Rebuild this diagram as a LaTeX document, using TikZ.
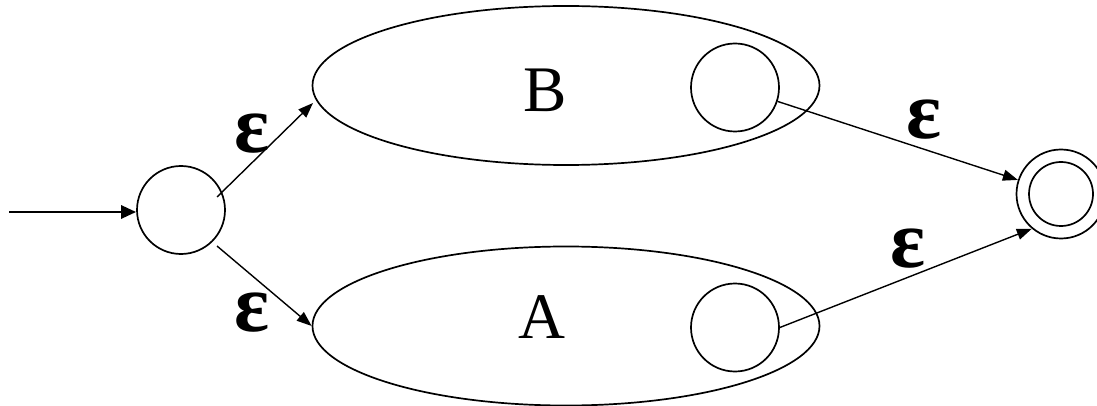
\documentclass[tikz,border=0pt]{standalone}
\usepackage{fontspec}
\setmainfont{Liberation Serif}
\usetikzlibrary{shapes.geometric,arrows.meta}
\begin{document}
\begin{tikzpicture}[x=1pt,y=-1pt,
  state/.style={draw,circle,line width=1.7pt,minimum size=88pt,inner sep=0pt},
  group/.style={draw,ellipse,line width=1.7pt,minimum width=507pt,minimum height=159pt,inner sep=0pt},
  edge/.style={line width=1.4pt,-{Triangle[length=15pt,width=11pt]}},
  startedge/.style={line width=2.8pt,-{Triangle[length=15pt,width=13pt]}},
  eps/.style={anchor=base,inner sep=0pt,font=\fontsize{82}{90}\selectfont\bfseries},
  big/.style={anchor=base,inner sep=0pt,font=\fontsize{65}{72}\selectfont}]
\useasboundingbox (0,0) rectangle (1097,406);
\node[group] (B) at (566,85.5) {};
\node[group] (A) at (566,326) {};
\node[big] (Bl) at (545,112) {B};
\node[big] (Al) at (542,338) {A};
\node[state] (s) at (181,210) {};
\node[state] (b) at (735,87.5) {};
\node[state] (a) at (735,327.5) {};
\node[state,minimum size=89pt] (f) at (1061,194) {};
\node[state,minimum size=64pt] (fi) at (1061,194) {};
\coordinate (i) at (9,212);
\coordinate (s1) at (217,197);
\coordinate (s2) at (217,246);
\coordinate (bin) at (313,103);
\draw[startedge] (i) -- (i -| s.west);
\draw[edge] (s1) -- (bin);
\draw[edge] (s2) -- (A.west);
\draw[edge] (b) -- (f);
\draw[edge] (a.east) -- (f.230);
\node[eps] (e1) at (252,153) {ε};
\node[eps] (e2) at (252,331) {ε};
\node[eps] (e3) at (924,139) {ε};
\node[eps] (e4) at (908,267) {ε};
\end{tikzpicture}
\end{document}
